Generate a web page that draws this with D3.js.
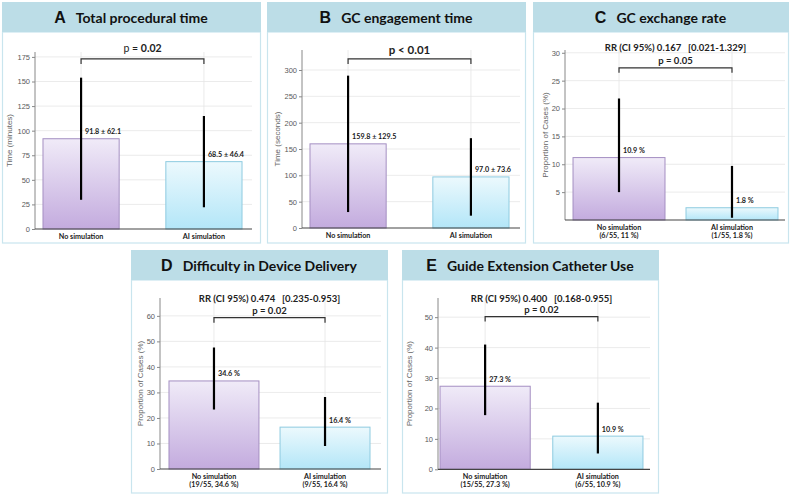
<!DOCTYPE html>
<html>
<head>
<meta charset="utf-8">
<script src="https://cdn.jsdelivr.net/npm/d3@7"></script>
<style>
body { margin: 0; background: #fff; }
svg { display: block; }
</style>
</head>
<body>
<script>
// chart values
var panelIds = ["A", "B", "C", "D", "E"];
var panelTitles = ["Total procedural time", "GC engagement time", "GC exchange rate",
                   "Difficulty in Device Delivery", "Guide Extension Catheter Use"];
var categories = ["No simulation", "AI simulation"];
var subLabels = [null, null,
                 ["(6/55, 11 %)", "(1/55, 1.8 %)"],
                 ["(19/55, 34.6 %)", "(9/55, 16.4 %)"],
                 ["(15/55, 27.3 %)", "(6/55, 10.9 %)"]];
var barValues = [[91.8, 68.5], [159.8, 97.0], [11.2, 2.2], [34.5, 16.4], [27.3, 10.9]];
var errLow  = [[29.7, 22.1], [30.3, 23.4], [5.0, 0.4], [23.3, 9.0], [17.8, 5.2]];
var errHigh = [[153.9, 114.9], [289.3, 170.6], [21.8, 9.7], [47.6, 28.2], [41.0, 21.9]];
var valueLabels = [["91.8 ± 62.1", "68.5 ± 46.4"], ["159.8 ± 129.5", "97.0 ± 73.6"],
                   ["10.9 %", "1.8 %"], ["34.6 %", "16.4 %"], ["27.3 %", "10.9 %"]];
var yMax = [180, 338, 30.5, 67, 56.3];
var yTicks = [[0, 25, 50, 75, 100, 125, 150, 175],
              [0, 50, 100, 150, 200, 250, 300],
              [5, 10, 15, 20, 25, 30],
              [0, 10, 20, 30, 40, 50, 60],
              [0, 10, 20, 30, 40, 50]];
var yTitles = ["Time (minutes)", "Time (seconds)", "Proportion of Cases (%)",
               "Proportion of Cases (%)", "Proportion of Cases (%)"];
var bracketLevel = [173, 321, 27.3, 59.3, 50.2];
var pTexts = ["p = 0.02", "p < 0.01", "p = 0.05", "p = 0.02", "p = 0.02"];
var rrTexts = [null, null,
               "RR (CI 95%) 0.167   [0.021-1.329]",
               "RR (CI 95%) 0.474   [0.235-0.953]",
               "RR (CI 95%) 0.400   [0.168-0.955]"];

// where each panel sits on the page
var layout = [
  {x: 2,   y: 2,   w: 258, h: 241, r0: 35,  r1: 250, pi: 0.38,  po: 0.065, bot: 229,   top: 52,  end: 252, ylx: 12,  pY: 52,  pSize: 10.5, pBold: "num"},
  {x: 267, y: 2,   w: 258, h: 241, r0: 302, r1: 517, pi: 0.38,  po: 0.065, bot: 228,   top: 50,  end: 520, ylx: 280, pY: 54,  pSize: 11.5, pBold: "all"},
  {x: 533, y: 2,   w: 255, h: 241, r0: 565, r1: 786, pi: 0.186, po: 0.071, bot: 220,   top: 50,  end: 785, ylx: 548, pY: 64,  rrY: 51,  pSize: 9.5, pBold: "all"},
  {x: 131, y: 250, w: 256, h: 243, r0: 160, r1: 379, pi: 0.19,  po: 0.081, bot: 469,   top: 298, end: 381, ylx: 143, pY: 314, rrY: 302, pSize: 9.5, pBold: "all"},
  {x: 402, y: 250, w: 256, h: 243, r0: 438, r1: 645, pi: 0.2,   po: 0.018, bot: 469.3, top: 298, end: 650, ylx: 412, pY: 313, rrY: 302, pSize: 9.5, pBold: "all"}
];
var headH = 30;

var svg = d3.select("body").append("svg")
    .attr("width", 796)
    .attr("height", 496);

var defs = svg.append("defs");
var purple = defs.append("linearGradient").attr("id", "gPurple")
    .attr("x1", 0).attr("y1", 0).attr("x2", 0).attr("y2", 1);
purple.append("stop").attr("offset", "0%").attr("stop-color", "#f0ebf8");
purple.append("stop").attr("offset", "100%").attr("stop-color", "#c3abde");
var blue = defs.append("linearGradient").attr("id", "gBlue")
    .attr("x1", 0).attr("y1", 0).attr("x2", 0).attr("y2", 1);
blue.append("stop").attr("offset", "0%").attr("stop-color", "#ecf9fd");
blue.append("stop").attr("offset", "100%").attr("stop-color", "#b3e6f8");
var fills = ["url(#gPurple)", "url(#gBlue)"];
var strokes = ["#a48fc2", "#8ecbe0"];

panelIds.forEach(function(id, k) {
  var L = layout[k];
  var g = svg.append("g");

  // frame + header strip
  g.append("rect")
    .attr("x", L.x + 0.5).attr("y", L.y + headH)
    .attr("width", L.w).attr("height", L.h - headH)
    .attr("fill", "#fff").attr("stroke", "#c9e5ee").attr("stroke-width", 1.2);
  g.append("rect")
    .attr("x", L.x).attr("y", L.y)
    .attr("width", L.w + 1).attr("height", headH)
    .attr("fill", "#bcdde7");

  var title = g.append("text")
    .attr("x", L.x + L.w / 2)
    .attr("y", L.y + 21)
    .attr("text-anchor", "middle")
    .attr("fill", "#111");
  title.append("tspan")
    .style("font-family", "'Liberation Sans', Arial, sans-serif")
    .style("font-weight", "bold")
    .style("font-size", "16px")
    .text(id);
  title.append("tspan")
    .attr("dx", 10)
    .style("font-family", "Lato, sans-serif")
    .style("font-weight", "bold")
    .style("font-size", "14px")
    .text(panelTitles[k]);

  // scales
  var xScale = d3.scaleBand()
    .domain(categories)
    .range([L.r0, L.r1])
    .paddingInner(L.pi)
    .paddingOuter(L.po);
  var yScale = d3.scaleLinear()
    .domain([0, yMax[k]])
    .range([L.bot, L.top]);

  // grid
  g.append("g").selectAll("line.h")
    .data(yTicks[k].filter(function(t) { return t > 0; }))
    .enter().append("line")
    .attr("x1", L.r0).attr("x2", L.end)
    .attr("y1", function(d) { return yScale(d); })
    .attr("y2", function(d) { return yScale(d); })
    .attr("stroke", "#e6e6e6").attr("stroke-width", 0.8);
  g.append("g").selectAll("line.v")
    .data(categories)
    .enter().append("line")
    .attr("x1", function(d) { return xScale(d) + xScale.bandwidth() / 2; })
    .attr("x2", function(d) { return xScale(d) + xScale.bandwidth() / 2; })
    .attr("y1", L.top).attr("y2", L.bot)
    .attr("stroke", "#e4e4e4").attr("stroke-width", 0.8);

  // bars
  g.append("g").selectAll("rect")
    .data(barValues[k])
    .enter().append("rect")
    .attr("x", function(d, i) { return xScale(categories[i]); })
    .attr("y", function(d) { return yScale(d); })
    .attr("width", xScale.bandwidth())
    .attr("height", function(d) { return L.bot - yScale(d); })
    .attr("fill", function(d, i) { return fills[i]; })
    .attr("stroke", function(d, i) { return strokes[i]; })
    .attr("stroke-width", 1);

  // error bars
  g.append("g").selectAll("line")
    .data(barValues[k])
    .enter().append("line")
    .attr("x1", function(d, i) { return xScale(categories[i]) + xScale.bandwidth() / 2; })
    .attr("x2", function(d, i) { return xScale(categories[i]) + xScale.bandwidth() / 2; })
    .attr("y1", function(d, i) { return yScale(errLow[k][i]); })
    .attr("y2", function(d, i) { return yScale(errHigh[k][i]); })
    .attr("stroke", "#000").attr("stroke-width", 2.2);

  // value labels
  g.append("g").selectAll("text")
    .data(valueLabels[k])
    .enter().append("text")
    .attr("x", function(d, i) { return xScale(categories[i]) + xScale.bandwidth() / 2 + 4; })
    .attr("y", function(d, i) { return yScale(barValues[k][i]) - 4.5; })
    .style("font-family", "Lato, sans-serif")
    .style("font-weight", "bold")
    .style("font-size", "7.2px")
    .attr("fill", "#1a1a1a")
    .text(function(d) { return d; });

  // y axis
  var yAxis = d3.axisLeft(yScale).tickValues(yTicks[k]).tickSize(3).tickPadding(2);
  var ya = g.append("g")
    .attr("transform", "translate(" + L.r0 + ",0)")
    .call(yAxis);
  ya.select(".domain").remove();
  ya.selectAll(".tick line").attr("stroke", "#888");
  ya.selectAll(".tick text")
    .attr("fill", "#5a5a5a")
    .style("font-family", "'Liberation Sans', Arial, sans-serif")
    .style("font-size", "7.5px");
  g.append("line")
    .attr("x1", L.r0).attr("x2", L.r0)
    .attr("y1", L.top).attr("y2", L.bot)
    .attr("stroke", "#888").attr("stroke-width", 1);
  g.append("text")
    .attr("text-anchor", "middle")
    .attr("transform", "translate(" + L.ylx + "," + ((L.top + L.bot) / 2) + ") rotate(-90)")
    .style("font-family", "'Liberation Sans', Arial, sans-serif")
    .style("font-size", "8px")
    .attr("fill", "#666")
    .text(yTitles[k]);

  // x axis line + category labels
  g.append("line")
    .attr("x1", L.r0).attr("x2", L.end)
    .attr("y1", L.bot).attr("y2", L.bot)
    .attr("stroke", "#444").attr("stroke-width", 1.2);
  g.append("g").selectAll("text")
    .data(categories)
    .enter().append("text")
    .attr("x", function(d) { return xScale(d) + xScale.bandwidth() / 2; })
    .attr("y", L.bot + 9.5)
    .attr("text-anchor", "middle")
    .style("font-family", "Lato, sans-serif")
    .style("font-weight", "bold")
    .style("font-size", "7.2px")
    .attr("fill", "#1a1a1a")
    .text(function(d) { return d; });
  if (subLabels[k]) {
    g.append("g").selectAll("text")
      .data(subLabels[k])
      .enter().append("text")
      .attr("x", function(d, i) { return xScale(categories[i]) + xScale.bandwidth() / 2; })
      .attr("y", L.bot + 18)
      .attr("text-anchor", "middle")
      .style("font-family", "Lato, sans-serif")
      .style("font-weight", "bold")
      .style("font-size", "7.2px")
      .attr("fill", "#1a1a1a")
      .text(function(d) { return d; });
  }

  // significance bracket
  var bx1 = xScale(categories[0]) + xScale.bandwidth() / 2;
  var bx2 = xScale(categories[1]) + xScale.bandwidth() / 2;
  var by = yScale(bracketLevel[k]);
  g.append("path")
    .attr("d", "M" + bx1 + "," + (by + 5) + "V" + by + "H" + bx2 + "V" + (by + 5))
    .attr("fill", "none").attr("stroke", "#333").attr("stroke-width", 1.2);

  var cx = (bx1 + bx2) / 2;
  if (rrTexts[k]) {
    g.append("text")
      .attr("x", cx).attr("y", L.rrY)
      .attr("text-anchor", "middle")
      .style("white-space", "pre")
      .style("font-family", "Lato, sans-serif")
      .style("font-weight", "bold")
      .style("font-size", L.pSize + "px")
      .attr("fill", "#222")
      .text(rrTexts[k]);
  }
  var pt = g.append("text")
    .attr("x", cx).attr("y", L.pY)
    .attr("text-anchor", "middle")
    .style("font-family", "Lato, sans-serif")
    .style("font-size", L.pSize + "px")
    .attr("fill", "#222");
  if (L.pBold === "num") {
    var parts = pTexts[k].split(" = ");
    pt.append("tspan").style("white-space", "pre").text(parts[0] + " = ");
    pt.append("tspan").style("font-weight", "bold").text(parts[1]);
  } else {
    pt.style("font-weight", "bold").text(pTexts[k]);
  }
});
</script>
</body>
</html>
